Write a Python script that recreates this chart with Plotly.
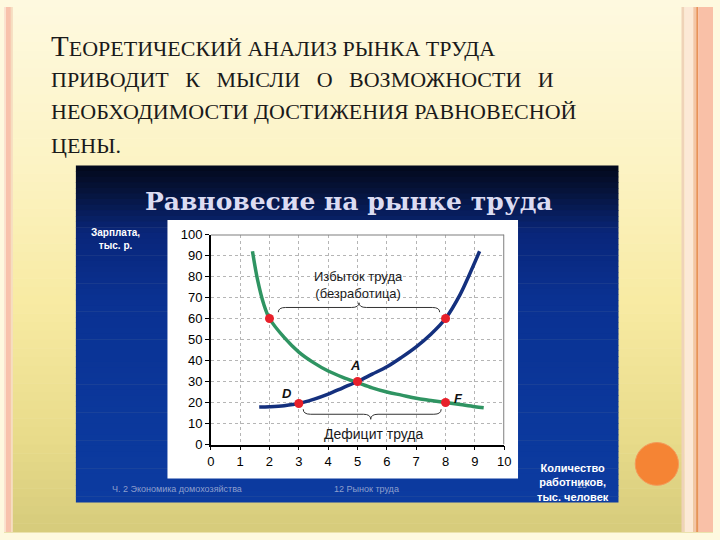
import plotly.graph_objects as go

W, H = 720, 540

# ---------------- data ----------------
demand_x = [1.42, 1.6, 1.8, 2.0, 2.5, 3.0, 3.5, 4.0, 4.5, 5.0, 5.5, 6.0, 6.5, 7.0, 7.5, 8.0, 8.5, 9.0, 9.3]
demand_y = [92, 78, 67, 60, 51, 44, 39, 35, 32, 29.5, 27, 25, 23.5, 22, 21, 20, 19, 18, 17.5]

supply_x = [1.65, 2.0, 2.5, 3.0, 3.5, 4.0, 4.5, 5.0, 5.5, 6.0, 6.5, 7.0, 7.5, 8.0, 8.5, 8.8, 9.16]
supply_y = [17.8, 18, 18.5, 19.5, 21.5, 24, 27, 30, 33.5, 37, 41.5, 46.5, 52.5, 60, 71.5, 80.5, 92]

point_x = [2, 8, 5, 3, 8]
point_y = [60, 60, 30, 19.5, 20]
point_labels = ["", "", "A", "D", "F"]

x_ticks = list(range(0, 11))
y_ticks = list(range(0, 101, 10))

title = "Равновесие на рынке труда"
y_title = "Зарплата,<br>тыс. р."
x_title = "Количество<br>работников,<br>тыс. человек"
surplus_text = "Избыток труда<br>(безработица)"
deficit_text = "Дефицит труда"
heading_lines = [
    "<span style='font-size:29px'>Т</span>ЕОРЕТИЧЕСКИЙ АНАЛИЗ РЫНКА ТРУДА",
    "ПРИВОДИТ\u00a0\u00a0 К\u00a0\u00a0 МЫСЛИ\u00a0\u00a0 О\u00a0\u00a0 ВОЗМОЖНОСТИ\u00a0\u00a0 И",
    "НЕОБХОДИМОСТИ ДОСТИЖЕНИЯ РАВНОВЕСНОЙ",
    "ЦЕНЫ.",
]


# ---------------- helpers ----------------
def px(x):
    return x / W


def py(y):
    return 1 - y / H


def hex2rgb(h):
    h = h.lstrip("#")
    return tuple(int(h[i:i + 2], 16) for i in (0, 2, 4))


def interp(stops, t):
    for (t0, c0), (t1, c1) in zip(stops, stops[1:]):
        if t0 <= t <= t1:
            f = (t - t0) / (t1 - t0) if t1 > t0 else 0
            a, b = hex2rgb(c0), hex2rgb(c1)
            return "rgb(%d,%d,%d)" % tuple(round(a[i] + (b[i] - a[i]) * f) for i in range(3))
    return stops[-1][1]


shapes = []


def rect(x0, y0, x1, y1, color, layer="below"):
    shapes.append(dict(type="rect", xref="paper", yref="paper",
                       x0=px(x0), x1=px(x1), y0=py(y1), y1=py(y0),
                       fillcolor=color, line=dict(width=0), layer=layer))


def vgradient(x0, y0, x1, y1, stops, n=60):
    hgt = (y1 - y0) / n
    for i in range(n):
        t = (i + 0.5) / n
        rect(x0, y0 + i * hgt, x1, y0 + (i + 1) * hgt + 0.6, interp(stops, t))


# slide background
vgradient(0, 0, 720, 540, [(0, "#FEF9DF"), (0.3, "#FCF3C4"), (0.55, "#F8EBA4"),
                           (0.8, "#EADD8C"), (1, "#D6CB7B")])
# left border
rect(0, 0, 2, 540, "#FBE3D0")
rect(2, 0, 7, 540, "#F8C2AC")
rect(7, 0, 9, 540, "#F6DDC0")
# right border
rect(688, 0, 691, 540, "#EFD3B8")
rect(691, 0, 700, 540, "#FCE9D6")
rect(700, 0, 703, 540, "#F3C5A6")
rect(703, 0, 705, 540, "#E8925A")
rect(705, 0, 720, 540, "#F9C0A7")

# blue panel
vgradient(73, 163, 624, 509, [(0, "#03081A"), (0.08, "#06143C"), (0.2, "#09267A"),
                              (0.4, "#0A3192"), (0.75, "#0B389C"), (1, "#0C3BA0")])
# white chart area
rect(166, 219, 522, 485, "#FFFFFF")

# orange circle
shapes.append(dict(type="circle", xref="paper", yref="paper",
                   x0=px(641), x1=px(685), y0=py(492), y1=py(448),
                   fillcolor="#F58434", line=dict(color="#F49A5A", width=1), layer="below"))

# grey top/right border of plot
shapes.append(dict(type="line", xref="x", yref="y", x0=x_ticks[0], x1=x_ticks[-1],
                   y0=y_ticks[-1], y1=y_ticks[-1], line=dict(color="#7F7F7F", width=2)))
shapes.append(dict(type="line", xref="x", yref="y", x0=x_ticks[-1], x1=x_ticks[-1],
                   y0=y_ticks[0], y1=y_ticks[-1], line=dict(color="#7F7F7F", width=2)))


def brace(x0, x1, xm, yb, ytip):
    ymid = (yb + ytip) / 2
    d = 0.25
    return (f"M {x0},{yb} Q {x0},{ymid} {x0 + d},{ymid} L {xm - d},{ymid} "
            f"Q {xm},{ymid} {xm},{ytip} Q {xm},{ymid} {xm + d},{ymid} "
            f"L {x1 - d},{ymid} Q {x1},{ymid} {x1},{yb}")


shapes.append(dict(type="path", xref="x", yref="y",
                   path=brace(point_x[0] + 0.3, point_x[1] - 0.2, 5.05, 63, 67.5),
                   line=dict(color="#333333", width=1)))
shapes.append(dict(type="path", xref="x", yref="y",
                   path=brace(point_x[3] + 0.15, point_x[4] - 0.15, 5.45, 16.8, 12.0),
                   line=dict(color="#333333", width=1)))

fig = go.Figure()
fig.add_trace(go.Scatter(x=demand_x, y=demand_y, mode="lines",
                         line=dict(color="#2F9462", width=3.5, shape="spline", smoothing=1.0),
                         hoverinfo="skip"))
fig.add_trace(go.Scatter(x=supply_x, y=supply_y, mode="lines",
                         line=dict(color="#14307E", width=3.5, shape="spline", smoothing=1.0),
                         hoverinfo="skip"))
fig.add_trace(go.Scatter(x=point_x, y=point_y, mode="markers",
                         marker=dict(color="#E8202A", size=9, line=dict(width=0)),
                         hoverinfo="skip"))

annotations = []
# point letters
letter_offsets = {"A": (-0.1, 7.5), "D": (-0.4, 5), "F": (0.45, 2)}
for x, y, lab in zip(point_x, point_y, point_labels):
    if lab:
        dx, dy = letter_offsets[lab]
        annotations.append(dict(x=x + dx, y=y + dy, xref="x", yref="y", text=f"<b><i>{lab}</i></b>",
                                showarrow=False, font=dict(family="Arial", size=13, color="#111111")))
annotations.append(dict(x=5.05, y=76, xref="x", yref="y", text=surplus_text, showarrow=False,
                        font=dict(family="Arial", size=13, color="#1A1A1A")))
annotations.append(dict(x=5.55, y=5, xref="x", yref="y", text=deficit_text, showarrow=False,
                        font=dict(family="Arial", size=14, color="#1A1A1A")))
# panel texts
annotations.append(dict(x=px(350), y=py(200), xref="paper", yref="paper", text=f"<b>{title}</b>",
                        xanchor="center", yanchor="middle", showarrow=False,
                        font=dict(family="DejaVu Serif, Liberation Serif, serif", size=25, color="#DCDCF2")))
annotations.append(dict(x=px(113), y=py(239), xref="paper", yref="paper", text=f"<b>{y_title}</b>",
                        xanchor="center", yanchor="middle", showarrow=False,
                        font=dict(family="Arial", size=10, color="#FFFFFF")))
annotations.append(dict(x=px(578), y=py(489), xref="paper", yref="paper", text=f"<b>{x_title}</b>",
                        xanchor="center", yanchor="middle", showarrow=False,
                        font=dict(family="Arial", size=11, color="#FFFFFF")))
annotations.append(dict(x=px(108), y=py(496), xref="paper", yref="paper", xanchor="left",
                        yanchor="middle", text="Ч. 2 Экономика домохозяйства", showarrow=False,
                        font=dict(family="Arial", size=9, color="rgba(200,205,225,0.7)")))
annotations.append(dict(x=px(333), y=py(496), xref="paper", yref="paper", xanchor="left",
                        yanchor="middle", text="12 Рынок труда", showarrow=False,
                        font=dict(family="Arial", size=9, color="rgba(200,205,225,0.7)")))
annotations.append(dict(x=px(587), y=py(492), xref="paper", yref="paper", xanchor="center",
                        yanchor="middle", text="15", showarrow=False,
                        font=dict(family="Arial", size=9, color="rgba(200,205,225,0.7)")))
# slide heading
for i, (line, yy) in enumerate(zip(heading_lines, [40, 75, 108, 142])):
    annotations.append(dict(x=px(46), y=py(yy), xref="paper", yref="paper", xanchor="left",
                            yanchor="middle", text=line, showarrow=False,
                            font=dict(family="Liberation Serif, Times New Roman, serif",
                                      size=22, color="#1A1A1A")))

fig.update_layout(
    width=W, height=H, margin=dict(l=0, r=0, t=0, b=0),
    paper_bgcolor="#FEF9DF", plot_bgcolor="rgba(0,0,0,0)",
    showlegend=False, shapes=shapes, annotations=annotations,
    xaxis=dict(domain=[px(210), px(508)], range=[0, 10], tickvals=x_ticks,
               showgrid=True, gridcolor="#B5B5B5", griddash="dot", gridwidth=1,
               showline=True, linecolor="#000000", linewidth=1.5,
               ticks="outside", ticklen=4, tickcolor="#000000",
               tickfont=dict(family="Arial", size=13, color="#000000"),
               zeroline=False, fixedrange=True),
    yaxis=dict(domain=[py(450), py(234)], range=[0, 100], tickvals=y_ticks,
               showgrid=True, gridcolor="#B5B5B5", griddash="dot", gridwidth=1,
               showline=True, linecolor="#000000", linewidth=1.5,
               ticks="outside", ticklen=4, tickcolor="#000000",
               tickfont=dict(family="Arial", size=13, color="#000000"),
               zeroline=False, fixedrange=True),
)

fig.write_html(
    "out.html", config={"displayModeBar": False},
    post_script=("document.documentElement.style.margin='0px';"
                 "document.body.style.margin='0px';document.body.style.padding='0px';"
                 "document.body.style.overflow='hidden';"
                 "document.documentElement.style.overflow='hidden';"),
)
